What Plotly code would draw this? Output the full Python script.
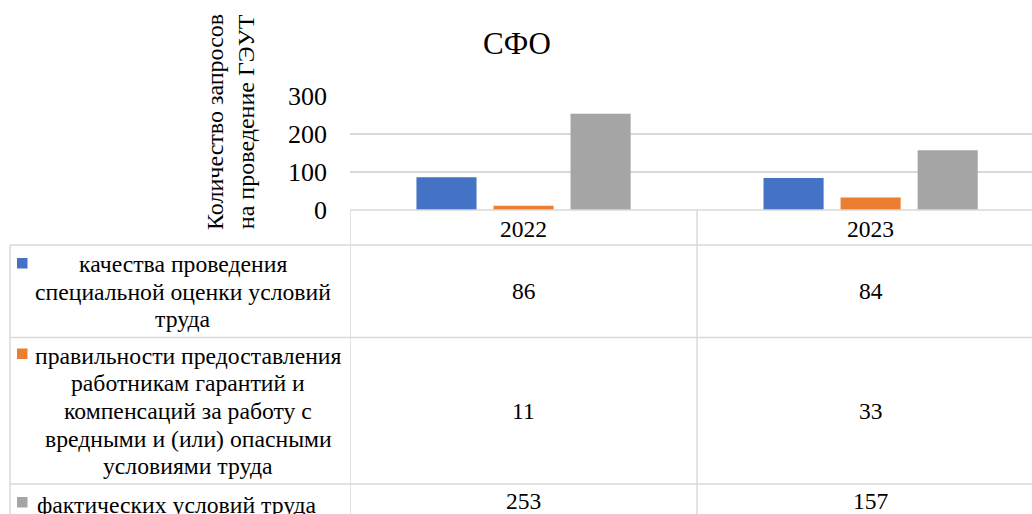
import plotly.graph_objects as go

# ---- data ----
years = ["2022", "2023"]
series_names = [
    "качества проведения специальной оценки условий труда",
    "правильности предоставления работникам гарантий и компенсаций за работу с вредными и (или) опасными условиями труда",
    "фактических условий труда",
]
series_values = [
    [86, 84],
    [11, 33],
    [253, 157],
]
# wrapped display lines of the series names (as shown in the data table)
label_lines = [
    ["качества проведения", "специальной оценки условий", "труда"],
    ["правильности предоставления", "работникам гарантий и", "компенсаций за работу с",
     "вредными и (или) опасными", "условиями труда"],
    ["фактических условий труда"],
]
y_ticks = [0, 100, 200, 300]
title_text = "СФО"
y_title_lines = ["Количество запросов", "на проведение ГЭУТ"]

colors = ["#4472C4", "#ED7D31", "#A5A5A5"]
FONT = "Liberation Serif"
GRID = "#d9d9d9"

W, H = 1032, 514
L, R, T, B = 350, 0, 96, 304
PW, PH = W - L - R, H - T - B


def xp(px):
    return (px - L) / PW


def yp(py):
    return (H - B - py) / PH


fig = go.Figure()
for name, vals, c in zip(series_names, series_values, colors):
    fig.add_trace(go.Bar(x=years, y=vals, name=name, marker=dict(color=c, line=dict(width=0)),
                         showlegend=False, hoverinfo="y"))

shapes = []
annotations = []
line_style = dict(color=GRID, width=1.5)

# table grid
shapes.append(dict(type="line", xref="paper", yref="paper", x0=0, x1=1, y0=0, y1=0, line=line_style))
for py in [245, 337.5, 484]:
    shapes.append(dict(type="line", xref="paper", yref="paper", x0=xp(10), x1=1, y0=yp(py), y1=yp(py),
                       line=line_style))
shapes.append(dict(type="line", xref="paper", yref="paper", x0=xp(10), x1=xp(10), y0=yp(245), y1=yp(520),
                   line=line_style))
for xb in [-0.5, 0.5]:
    shapes.append(dict(type="line", xref="x", yref="paper", x0=xb, x1=xb, y0=0, y1=yp(520), line=line_style))

# row labels with legend keys
row_line_y = [[265, 292.5, 320], [357, 384.5, 412, 439.5, 467], [506]]
row_center_x = [183, 188, 177]
key_top = [258, 348.5, 497]
value_y = [292, 412, 502]
for i, lines in enumerate(label_lines):
    shapes.append(dict(type="rect", xref="paper", yref="paper", x0=xp(17), x1=xp(27.5),
                       y0=yp(key_top[i]), y1=yp(key_top[i] + 10.5), fillcolor=colors[i], line=dict(width=0)))
    for txt, py in zip(lines, row_line_y[i]):
        annotations.append(dict(text=txt, xref="paper", yref="paper", x=xp(row_center_x[i]), y=yp(py - 1),
                                xanchor="center", yanchor="middle", showarrow=False,
                                font=dict(family=FONT, size=23.7, color="#000")))
    for j, v in enumerate(series_values[i]):
        annotations.append(dict(text=str(v), xref="x", yref="paper", x=j, y=yp(value_y[i] - 1),
                                xanchor="center", yanchor="middle", showarrow=False,
                                font=dict(family=FONT, size=23.5, color="#000")))

# y-axis title (two rotated lines)
annotations.append(dict(text="<br>".join(y_title_lines), xref="paper", yref="paper", x=xp(230), y=yp(122),
                        xanchor="center", yanchor="middle", textangle=-90, showarrow=False,
                        font=dict(family=FONT, size=24, color="#000")))
# title
annotations.append(dict(text=title_text, xref="paper", yref="paper", x=xp(517), y=yp(43),
                        xanchor="center", yanchor="middle", showarrow=False,
                        font=dict(family=FONT, size=31, color="#000")))

fig.update_layout(
    width=W, height=H,
    margin=dict(l=L, r=R, t=T, b=B, pad=0),
    paper_bgcolor="white", plot_bgcolor="white",
    barmode="group", bargap=0.334, bargroupgap=0.22,
    shapes=shapes, annotations=annotations,
    font=dict(family=FONT, color="#000"),
    xaxis=dict(type="category", range=[-0.5, 1.465], showgrid=False, showline=False, zeroline=False,
               ticks="", tickfont=dict(family=FONT, size=23.5, color="#000"), ticklabelstandoff=2,
               fixedrange=True),
    yaxis=dict(range=[0, 300], tickvals=y_ticks, showgrid=True, gridcolor=GRID, gridwidth=1.5,
               zeroline=False, showline=False, ticks="", ticklabelstandoff=22,
               tickfont=dict(family=FONT, size=26, color="#000"), fixedrange=True),
)

fig.write_html("out.html", config={"displayModeBar": False},
               post_script="document.body.style.margin='0';document.body.style.overflow='hidden';")
